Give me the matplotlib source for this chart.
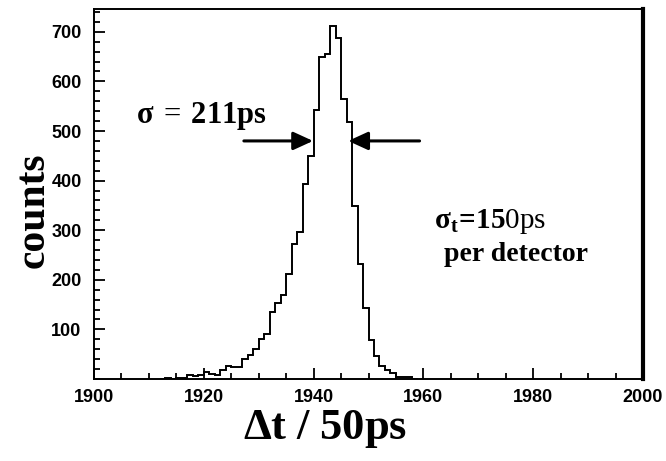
import matplotlib
matplotlib.use("Agg")
import matplotlib.pyplot as plt
from matplotlib.ticker import MultipleLocator, FixedLocator
from matplotlib.patches import FancyArrowPatch
import numpy as np

# ---- data ----
bin_start = 1912
counts = [1, 2, 1, 3, 2, 8, 6, 9, 14, 10, 9, 19, 26, 25, 25, 41, 48, 60, 80, 91,
          135, 154, 170, 212, 273, 296, 394, 450, 543, 650, 655, 712, 688, 565,
          518, 349, 231, 144, 79, 46, 26, 19, 13, 5, 4, 4, 1]
edges = np.arange(bin_start, bin_start + len(counts) + 1)
x_ticks = [1900, 1920, 1940, 1960, 1980, 2000]
y_ticks = [100, 200, 300, 400, 500, 600, 700]
fwhm_y = 480
left_arrow = (1927.3, 1939.9)
right_arrow = (1959.3, 1946.3)

plt.rcParams['mathtext.fontset'] = 'custom'
plt.rcParams['mathtext.rm'] = 'Liberation Serif'
plt.rcParams['mathtext.bf'] = 'Liberation Serif:bold'
plt.rcParams['mathtext.it'] = 'Liberation Serif:italic'

fig = plt.figure(figsize=(6.66, 4.61), dpi=100)
W, H = 666, 461
ax = fig.add_axes([94 / W, (H - 379) / H, (643 - 94) / W, (379 - 9) / H])

ax.stairs(counts, edges, color='black', linewidth=1.4, baseline=None)

ax.set_xlim(1900, 2000)
ax.set_ylim(0, 746)
ax.xaxis.set_major_locator(FixedLocator(x_ticks))
ax.xaxis.set_minor_locator(MultipleLocator(5))
ax.yaxis.set_major_locator(FixedLocator(y_ticks))
ax.yaxis.set_minor_locator(MultipleLocator(20))
ax.tick_params(which='both', direction='in', width=1.3, color='black')
ax.tick_params(which='major', length=8)
ax.tick_params(which='minor', length=4)
ax.tick_params(axis='x', which='major', pad=7)
ax.tick_params(axis='y', which='major', pad=9)

for lab in ax.get_xticklabels() + ax.get_yticklabels():
    lab.set_fontfamily('Liberation Sans')
    lab.set_fontweight('bold')
    lab.set_fontsize(13)

for side in ['left', 'bottom', 'top']:
    ax.spines[side].set_linewidth(1.4)
ax.spines['right'].set_linewidth(3)

ax.set_xlabel(r'$\mathbf{\Delta t\ /\ 50ps}$', fontsize=32)
ax.xaxis.set_label_coords((325 - 94) / 549, -0.075)
ax.set_ylabel('counts', fontsize=30, fontweight='bold', fontfamily='Liberation Serif')
ax.yaxis.set_label_coords((53 - 94) / 549, (379 - 210) / 370)

# arrows
for x0, x1 in [left_arrow, right_arrow]:
    arr = FancyArrowPatch((x0, fwhm_y), (x1, fwhm_y),
                          arrowstyle='-|>,head_length=12,head_width=5.5',
                          mutation_scale=1, linewidth=2.2, color='black',
                          shrinkA=0, shrinkB=0)
    ax.add_patch(arr)

ax.text(1907.6, 517, r'$\mathbf{\sigma}\;\mathrm{=}\;\mathbf{211ps}$', fontsize=22,
        ha='left', va='baseline')
ax.text(1961.9, 305, r'$\mathbf{\sigma_t}\!\mathbf{=}\!\mathbf{15}\mathrm{0ps}$',
        fontsize=21, ha='left', va='baseline')
ax.text(1963.7, 238, 'per detector', fontsize=20, fontweight='bold',
        fontfamily='Liberation Serif', ha='left', va='baseline')

fig.savefig('out.png', dpi=100)
